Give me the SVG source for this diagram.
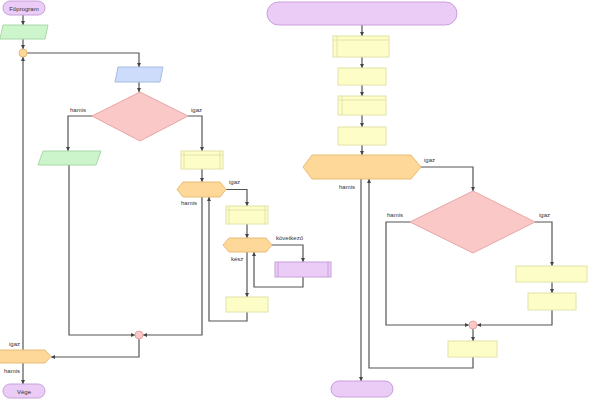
<svg xmlns="http://www.w3.org/2000/svg" width="593" height="400" viewBox="0 0 593 400">
<defs>
<marker id="ah" viewBox="0 0 10 10" refX="10" refY="5" markerWidth="4" markerHeight="4" orient="auto" markerUnits="userSpaceOnUse"><path d="M0,0 L10,5 L0,10 z" fill="#444"/></marker>
<style>
.term{fill:#ebccf7;stroke:#c8a0da;stroke-width:1}
.io-g{fill:#ccf5cc;stroke:#a8d8a8;stroke-width:1}
.io-b{fill:#ccdcfa;stroke:#a8bce0;stroke-width:1}
.dec{fill:#fbc8c8;stroke:#e6a6a6;stroke-width:1}
.proc{fill:#fdfdc8;stroke:#e2e2a8;stroke-width:1}
.loop{fill:#fdd898;stroke:#e8bc78;stroke-width:1}
.join-o{fill:#fdd898;stroke:#e8bc78;stroke-width:1}
.join-p{fill:#fbc8c8;stroke:#e6a6a6;stroke-width:1}
.sub{fill:#ebccf7;stroke:#c8a0da;stroke-width:1}
.inner{fill:none;stroke:#e2e2a8;stroke-width:1}
.inner-p{fill:none;stroke:#c8a0da;stroke-width:1}
.c{fill:none;stroke:#555;stroke-width:1.2}
.ca{fill:none;stroke:#555;stroke-width:1.2;marker-end:url(#ah)}
.t{font-family:"Liberation Sans",Arial,sans-serif;font-size:6px;fill:#333}
</style>
</defs>
<rect width="593" height="400" fill="#fff"/>

<g id="connectors">
<!-- left chart -->
<path class="ca" d="M23,15 V25"/>
<path class="ca" d="M23,39 V49"/>
<path class="ca" d="M27,53 H139 V67"/>
<path class="ca" d="M139,82 V92"/>
<path class="ca" d="M92,116 H68 V151"/>
<path class="ca" d="M188,116 H202 V151"/>
<path class="ca" d="M69,165 V335 H135"/>
<path class="ca" d="M202,169 V182"/>
<path class="ca" d="M226,189.5 H247 V206"/>
<path class="ca" d="M247,224 V238"/>
<path class="ca" d="M272,245 H303 V262"/>
<path class="ca" d="M303,277 V287 H254 V252"/>
<path class="ca" d="M247,252 V297"/>
<path class="ca" d="M247,312 V321 H209 V197"/>
<path class="ca" d="M202,197 V335 H143"/>
<path class="ca" d="M139,339 V357 H51"/>
<path class="ca" d="M23,350 V57"/>
<path class="ca" d="M23,363 V384"/>
<!-- right chart -->
<path class="ca" d="M362,25 V36"/>
<path class="ca" d="M362,57 V68"/>
<path class="ca" d="M362,85 V96"/>
<path class="ca" d="M362,115 V127"/>
<path class="ca" d="M362,145 V155"/>
<path class="ca" d="M421,167 H473 V191"/>
<path class="ca" d="M410,222 H386 V325 H469"/>
<path class="ca" d="M535,222 H552 V266"/>
<path class="ca" d="M552,282 V293"/>
<path class="ca" d="M552,310 V325 H477"/>
<path class="ca" d="M473,329 V341"/>
<path class="ca" d="M473,357 V368 H369 V179"/>
<path class="ca" d="M361,179 V381"/>
</g>

<g id="start-left">
<rect class="term" x="3" y="1" width="42" height="14" rx="7"/>
<text class="t" x="24" y="10.5" text-anchor="middle">Főprogram</text>
</g>
<g id="input-left-1"><polygon class="io-g" points="3,25 48,25 45,39 0,39"/></g>
<g id="join-left-top"><circle class="join-o" cx="23" cy="53" r="4"/></g>
<g id="input-left-2"><polygon class="io-b" points="118,67 163,67 160,82 115,82"/></g>
<g id="decision-left">
<polygon class="dec" points="140,92 188,116 140,141 92,116"/>
<text class="t" x="70" y="112">hamis</text>
<text class="t" x="191" y="112">igaz</text>
</g>
<g id="input-left-3"><polygon class="io-g" points="43,151 101,151 96,165 38,165"/></g>
<g id="proc-left-1">
<rect class="proc" x="181" y="151" width="42" height="18"/>
<path class="inner" d="M184,151 V169 M220,151 V169 M181,155 H223"/>
</g>
<g id="loop-left-1">
<polygon class="loop" points="177,189.5 183,182 220,182 226,189.5 220,197 183,197"/>
<text class="t" x="181" y="205">hamis</text>
<text class="t" x="229" y="184">igaz</text>
</g>
<g id="proc-left-2">
<rect class="proc" x="226" y="206" width="42" height="18"/>
<path class="inner" d="M229,206 V224 M265,206 V224 M226,210 H268"/>
</g>
<g id="loop-left-2">
<polygon class="loop" points="223,245 229,238 266,238 272,245 266,252 229,252"/>
<text class="t" x="231" y="261">kész</text>
<text class="t" x="276" y="240">következő</text>
</g>
<g id="sub-left">
<rect class="sub" x="275" y="262" width="56" height="15"/>
<path class="inner-p" d="M278,262 V277 M328,262 V277"/>
</g>
<g id="proc-left-3"><rect class="proc" x="226" y="297" width="42" height="15"/></g>
<g id="join-left-bottom"><circle class="join-p" cx="139" cy="335" r="4"/></g>
<g id="loop-left-outer">
<polygon class="loop" points="-6,356.5 0,350 45,350 51,356.5 45,363 0,363"/>
<text class="t" x="9" y="346">igaz</text>
<text class="t" x="4" y="373">hamis</text>
</g>
<g id="end-left">
<rect class="term" x="3" y="384" width="42" height="14" rx="7"/>
<text class="t" x="24" y="393.5" text-anchor="middle">Vége</text>
</g>

<g id="start-right"><rect class="term" x="267" y="2" width="190" height="23" rx="11.5"/></g>
<g id="proc-right-1">
<rect class="proc" x="333" y="36" width="56" height="21"/>
<path class="inner" d="M337,36 V57 M333,40 H389"/>
</g>
<g id="proc-right-2"><rect class="proc" x="338" y="68" width="48" height="17"/></g>
<g id="proc-right-3">
<rect class="proc" x="338" y="96" width="48" height="19"/>
<path class="inner" d="M342,96 V115 M338,100 H386"/>
</g>
<g id="proc-right-4"><rect class="proc" x="338" y="127" width="48" height="18"/></g>
<g id="loop-right">
<polygon class="loop" points="303,167 312,155 411,155 421,167 411,179 312,179"/>
<text class="t" x="424" y="162">igaz</text>
<text class="t" x="339" y="189">hamis</text>
</g>
<g id="decision-right">
<polygon class="dec" points="473,191 535,222 473,253 410,222"/>
<text class="t" x="387" y="217">hamis</text>
<text class="t" x="539" y="217">igaz</text>
</g>
<g id="proc-right-5"><rect class="proc" x="516" y="266" width="71" height="16"/></g>
<g id="proc-right-6"><rect class="proc" x="528" y="293" width="48" height="17"/></g>
<g id="join-right"><circle class="join-p" cx="473" cy="325" r="4"/></g>
<g id="proc-right-7"><rect class="proc" x="448" y="341" width="49" height="16"/></g>
<g id="end-right"><rect class="term" x="331" y="381" width="62" height="16" rx="8"/></g>
</svg>
